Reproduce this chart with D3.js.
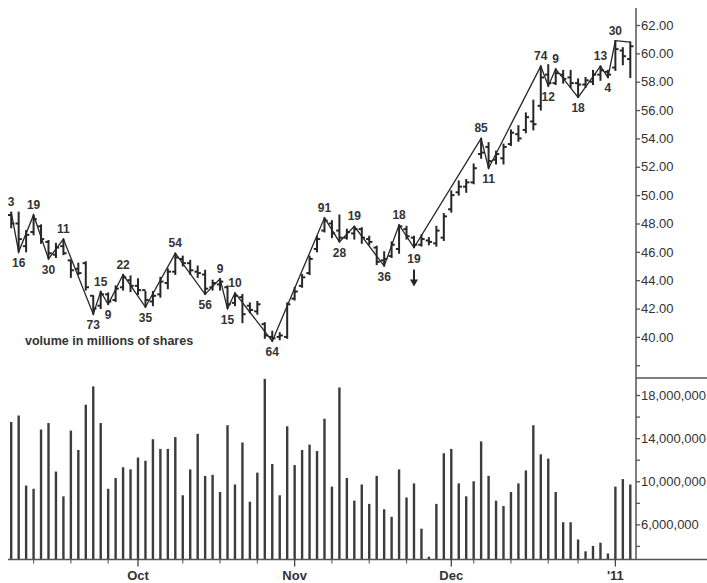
<!DOCTYPE html>
<html><head><meta charset="utf-8">
<script src="https://cdn.jsdelivr.net/npm/d3@7"></script>
<style>
html,body{margin:0;padding:0;background:#fff;}
svg{display:block;font-family:"Liberation Sans",Arial,sans-serif;}
</style></head>
<body><svg id="c" width="707" height="583"></svg>
<script>
// ---- data (trading days Sep 8 2010 – Jan 5 2011) ----
const sepDays = [8,9,10,13,14,15,16,17,20,21,22,23,24,27,28,29,30];
const octDays = [1,4,5,6,7,8,11,12,13,14,15,18,19,20,21,22,25,26,27,28,29];
const novDays = [1,2,3,4,5,8,9,10,11,12,15,16,17,18,19,22,23,24,26,29,30];
const decDays = [1,2,3,6,7,8,9,10,13,14,15,16,17,20,21,22,23,27,28,29,30,31];
const janDays = [3,4,5];
const pad = n => (n < 10 ? "0" : "") + n;
const dates = [].concat(
  sepDays.map(d => "2010-09-" + pad(d)), octDays.map(d => "2010-10-" + pad(d)),
  novDays.map(d => "2010-11-" + pad(d)), decDays.map(d => "2010-12-" + pad(d)),
  janDays.map(d => "2011-01-" + pad(d)));

const highs = [48.8,48.8,47.5,48.6,47.9,46.8,46.6,46.9,45.4,45.2,45.3,42.9,43.2,43.1,43.6,44.4,44.3,
  44.1,43.2,43.2,44.2,44.8,45.9,45.7,45.4,45.0,44.7,44.0,44.1,43.6,43.1,43.0,42.4,42.5,41.0,40.4,40.3,42.4,
  43.5,44.4,45.7,47.1,48.4,48.2,48.6,47.6,47.8,47.7,47.1,46.4,46.0,46.7,47.9,47.8,47.1,47.2,47.0,47.8,48.7,
  50.3,51.0,51.1,52.2,54.0,53.7,53.1,53.6,54.6,54.9,55.8,56.7,59.1,59.2,58.9,58.8,58.8,58.2,58.3,58.8,59.1,58.8,
  60.9,60.4,60.8];
const lows = [47.7,46.0,46.0,47.2,46.6,45.5,45.6,45.8,44.2,44.4,43.3,41.6,42.0,42.3,42.5,43.3,43.2,
  43.0,42.1,42.2,42.8,43.4,44.4,45.0,44.4,44.2,43.0,43.3,43.3,42.0,42.2,41.0,41.7,41.6,39.9,39.7,39.8,39.9,
  42.6,43.5,44.4,46.0,47.4,47.0,46.7,46.9,46.9,46.6,46.5,45.1,45.0,45.6,45.9,46.9,46.3,46.4,46.5,46.4,46.8,
  48.8,50.0,50.2,50.8,52.6,51.9,52.2,52.2,53.5,53.8,54.4,54.6,56.0,57.7,57.8,57.9,57.6,56.9,57.6,57.8,58.1,58.3,
  58.8,59.2,58.3];
const opens = [48.6,48.0,46.4,47.4,47.8,46.7,45.8,46.4,45.4,44.8,45.2,42.9,42.2,43.0,42.6,43.5,44.0,
  43.6,43.3,42.5,43.0,43.8,44.6,45.5,45.2,44.6,44.4,43.5,43.7,43.5,42.4,42.8,42.2,41.8,40.9,40.0,40.0,40.0,
  42.7,43.6,44.5,46.2,47.5,48.0,47.5,47.0,47.3,47.6,46.9,46.3,45.4,45.7,46.2,47.6,47.0,46.5,46.8,46.6,47.0,
  49.0,50.2,50.6,50.9,52.9,53.4,52.5,52.6,53.6,54.3,54.6,55.2,56.3,58.5,57.9,58.5,58.3,57.9,57.8,58.0,58.5,58.7,
  59.0,60.2,59.6];
const closes = [48.0,46.9,47.2,48.3,46.9,45.9,46.3,45.9,44.7,44.5,43.5,42.0,43.0,42.5,43.4,44.2,43.6,
  43.3,42.6,42.9,43.9,44.6,45.6,45.2,44.7,44.5,43.4,43.8,43.9,42.3,42.9,41.6,41.9,42.3,40.1,39.9,40.1,42.3,
  43.2,44.2,45.5,46.9,48.2,47.3,47.0,47.4,47.6,47.0,46.7,45.3,45.5,46.5,47.8,47.1,46.5,46.9,46.7,47.5,48.5,
  50.0,50.6,50.9,51.9,53.0,52.4,52.9,53.4,54.4,54.0,55.5,55.0,58.3,57.9,58.6,58.2,57.9,57.8,58.1,58.5,58.8,58.5,
  60.3,59.8,60.5];
// volume, millions of shares
const volumes = [15.5,16.1,9.6,9.3,14.8,15.4,10.9,8.6,14.7,12.9,17.1,18.8,15.4,9.3,10.3,11.3,11.1,
  12.2,11.9,13.9,13.0,13.0,14.1,8.7,11.1,14.4,10.5,10.6,9.0,15.2,9.7,13.6,8.1,10.8,19.5,11.6,8.7,15.1,
  11.5,12.9,13.4,12.8,15.8,9.5,18.7,10.3,8.2,9.7,7.9,10.5,7.4,6.7,11.1,8.5,9.8,5.6,3.0,7.9,12.6,
  13.0,9.8,8.6,10.0,13.7,10.5,8.2,7.7,9.0,9.8,11.0,15.2,12.5,12.1,9.0,6.2,6.2,4.6,3.5,4.0,4.3,3.3,
  9.5,10.2,9.7];

// swing points: date, high/low, label
const pivotDates = ["2010-09-08","2010-09-09","2010-09-13","2010-09-15","2010-09-17","2010-09-23","2010-09-24",
  "2010-09-27","2010-09-29","2010-10-04","2010-10-08","2010-10-14","2010-10-18","2010-10-19","2010-10-20",
  "2010-10-27","2010-11-05","2010-11-09","2010-11-11","2010-11-17","2010-11-19","2010-11-23","2010-12-07",
  "2010-12-08","2010-12-17","2010-12-20","2010-12-21","2010-12-27","2010-12-30","2010-12-31","2011-01-03","2011-01-05"];
const pivotTypes = ["H","L","H","L","H","L","H","L","H","L","H","L","H","L","H","L","H","L","H","L","H","L",
  "H","L","H","L","H","L","H","L","H","H"];
const pivotLabels = ["3","16","19","30","11","73","15","9","22","35","54","56","9","15","10","64","91","28",
  "19","36","18","19","85","11","74","12","9","18","13","4","30",""];

const priceTicks = [38,40,42,44,46,48,50,52,54,56,58,60,62];
const volTicks = [4,6,8,10,12,14,16,18];
const volLabelTicks = [6,10,14,18];
const monthTickDates = ["2010-10-01","2010-11-01","2010-12-01","2011-01-03"];
const monthTickLabels = ["Oct","Nov","Dec","'11"];
const weekTickDates = ["2010-09-13","2010-09-20","2010-09-27","2010-10-11","2010-10-18","2010-10-25",
  "2010-11-08","2010-11-15","2010-11-22","2010-12-06","2010-12-13","2010-12-20","2010-12-27"];
const arrowDate = "2010-11-23";
const noteText = "volume in millions of shares";

// ---- drawing ----
const svg = d3.select("#c");
const axisX = 636, bottomY = 559.5, sepY = 378;
const x = d3.scalePoint().domain(dates).range([11.2, 630.3]);
const yP = d3.scaleLinear().domain([37.1, 63.2]).range([378, 8]);
const yV = d3.scaleLinear().domain([2.74, 19.58]).range([bottomY, 378]);
const ink = "#262626";
const idx = d => dates.indexOf(d);

// volume bars
svg.append("g").selectAll("rect").data(volumes).join("rect")
  .attr("x", (v, i) => x(dates[i]) - 1.2)
  .attr("y", v => yV(v))
  .attr("width", 2.4)
  .attr("height", v => bottomY - yV(v))
  .attr("fill", "#3c3c3c");

// OHLC bars
const bars = svg.append("g").attr("stroke", ink).attr("stroke-width", 2);
dates.forEach((d, i) => {
  const cx = x(d);
  bars.append("line").attr("x1", cx).attr("x2", cx)
    .attr("y1", yP(highs[i]) - 0.5).attr("y2", yP(lows[i]) + 0.5);
  bars.append("line").attr("x1", cx - 3.2).attr("x2", cx)
    .attr("y1", yP(opens[i])).attr("y2", yP(opens[i]));
  bars.append("line").attr("x1", cx).attr("x2", cx + 3.2)
    .attr("y1", yP(closes[i])).attr("y2", yP(closes[i]));
});

// zigzag line
const pivotPts = pivotDates.map((d, k) => {
  const i = idx(d);
  return [x(d), yP(pivotTypes[k] === "H" ? highs[i] : lows[i])];
});
svg.append("path").attr("d", d3.line()(pivotPts))
  .attr("fill", "none").attr("stroke", ink).attr("stroke-width", 1.3);

// pivot labels
svg.append("g").attr("font-size", 12).attr("font-weight", "bold").attr("fill", "#333")
  .attr("text-anchor", "middle")
  .selectAll("text").data(pivotDates).join("text")
  .attr("x", d => x(d))
  .attr("y", (d, k) => pivotTypes[k] === "H" ? pivotPts[k][1] - 6 : pivotPts[k][1] + 15)
  .text((d, k) => pivotLabels[k]);

// arrow
{
  const ax = x(arrowDate), ay = yP(lows[idx(arrowDate)]) + 22;
  svg.append("line").attr("x1", ax).attr("x2", ax).attr("y1", ay).attr("y2", ay + 12)
    .attr("stroke", ink).attr("stroke-width", 2);
  svg.append("path").attr("d", `M${ax - 4},${ay + 10}L${ax + 4},${ay + 10}L${ax},${ay + 17}Z`).attr("fill", ink);
}

// note
svg.append("text").attr("x", 25).attr("y", 345).attr("font-size", 12.5).attr("font-weight", "bold")
  .attr("fill", "#333").text(noteText);

// right axes
svg.append("line").attr("x1", axisX).attr("x2", axisX).attr("y1", 8).attr("y2", bottomY)
  .attr("stroke", "#555").attr("stroke-width", 1.5);
svg.append("line").attr("x1", axisX).attr("x2", 707).attr("y1", sepY).attr("y2", sepY)
  .attr("stroke", "#555").attr("stroke-width", 1.3);
const pAxis = d3.axisRight(yP).tickValues(priceTicks).tickSize(4)
  .tickFormat(v => v >= 40 ? d3.format(".2f")(v) : "");
const pg = svg.append("g").attr("transform", `translate(${axisX},0)`).call(pAxis);
const vAxis = d3.axisRight(yV).tickValues(volTicks).tickSize(4)
  .tickFormat(v => volLabelTicks.includes(v) ? d3.format(",")(v * 1e6) : "");
const vg = svg.append("g").attr("transform", `translate(${axisX},0)`).call(vAxis);
[pg, vg].forEach(g => {
  g.select(".domain").remove();
  g.selectAll(".tick line").attr("stroke", "#555").attr("stroke-width", 1.3);
  g.selectAll(".tick text").attr("fill", "#333").attr("font-size", 13)
    .attr("font-family", "'Liberation Sans',Arial,sans-serif").attr("x", 5);
});

// bottom axis
svg.append("line").attr("x1", 8).attr("x2", 707).attr("y1", bottomY).attr("y2", bottomY)
  .attr("stroke", "#555").attr("stroke-width", 1.5);
svg.append("g").selectAll("line").data(weekTickDates).join("line")
  .attr("x1", d => x(d)).attr("x2", d => x(d)).attr("y1", bottomY).attr("y2", bottomY + 4)
  .attr("stroke", "#666").attr("stroke-width", 1.2);
svg.append("g").selectAll("line").data(monthTickDates).join("line")
  .attr("x1", d => x(d)).attr("x2", d => x(d)).attr("y1", bottomY - 4).attr("y2", bottomY + 7)
  .attr("stroke", "#444").attr("stroke-width", 1.3);
svg.append("g").attr("font-size", 13).attr("font-weight", "bold").attr("fill", "#333")
  .attr("text-anchor", "middle")
  .selectAll("text").data(monthTickDates).join("text")
  .attr("x", d => x(d)).attr("y", 580).text((d, k) => monthTickLabels[k]);
</script></body></html>
